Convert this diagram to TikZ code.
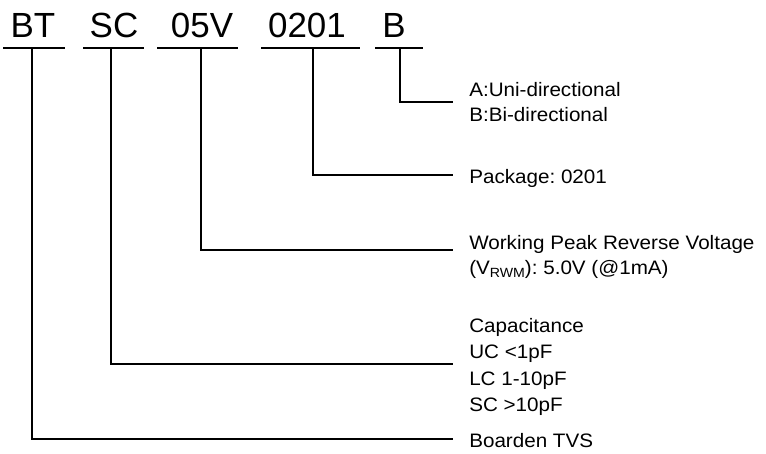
\documentclass[tikz,border=0pt]{standalone}
\usepackage{fontspec}
\setmainfont{Liberation Sans}
\newfontfamily\lblfont[FakeStretch=1.06]{Liberation Sans}
\frenchspacing
\begin{document}
\begin{tikzpicture}[x=0.75pt,y=-0.75pt,
  code/.style={font=\fontsize{26.2}{30}\selectfont, inner sep=0pt, anchor=base},
  lbl/.style={font=\lblfont\fontsize{14.6}{17}\selectfont, inner sep=0pt, anchor=base west},
  conn/.style={line width=0.9pt, line join=miter},
  uline/.style={line width=0.9pt}]
\useasboundingbox (0,0) rectangle (766,453);
% code letters
\node[code] (BT) at (33,38) {BT};
\node[code] (SC) at (114,38) {SC};
\node[code] (V)  at (202,38) {05V};
\node[code] (P)  at (307,38) {0201};
\node[code] (D)  at (394,38) {B};
% underlines
\draw[uline] (3,48) -- (65,48);
\draw[uline] (83,48) -- (144,48);
\draw[uline] (157,48) -- (238,48);
\draw[uline] (261,48) -- (360,48);
\draw[uline] (375,48) -- (423,48);
% connector start points
\coordinate (BTt) at (32,48);
\coordinate (SCt) at (111,48);
\coordinate (Vt)  at (201,48);
\coordinate (Pt)  at (313,48);
\coordinate (Dt)  at (400,48);
% connector end points
\coordinate (De)  at (453,102);
\coordinate (Pe)  at (453,175);
\coordinate (Ve)  at (453,250);
\coordinate (SCe) at (453,364);
\coordinate (BTe) at (453,439);
% labels
\node[lbl] (lD1) at (469,96) {A:Uni-directional};
\node[lbl] (lD2) at (469,121) {B:Bi-directional};
\node[lbl] (lP)  at (469,183) {Package: 0201};
\node[lbl] (lV1) at (469,249) {Working Peak Reverse Voltage};
\node[lbl] (lV2) at (469,274) {(V{\fontsize{10}{12}\selectfont\raisebox{-0.25em}{RWM}}): 5.0V (@1mA)};
\node[lbl] (lC1) at (469,332) {Capacitance};
\node[lbl] (lC2) at (469,358) {UC <1pF};
\node[lbl] (lC3) at (469,385) {LC 1-10pF};
\node[lbl] (lC4) at (469,411) {SC >10pF};
\node[lbl] (lBT) at (469,447) {Boarden TVS};
% connectors
\draw[conn] (Dt) |- (De);
\draw[conn] (Pt) |- (Pe);
\draw[conn] (Vt) |- (Ve);
\draw[conn] (SCt) |- (SCe);
\draw[conn] (BTt) |- (BTe);
\end{tikzpicture}
\end{document}
